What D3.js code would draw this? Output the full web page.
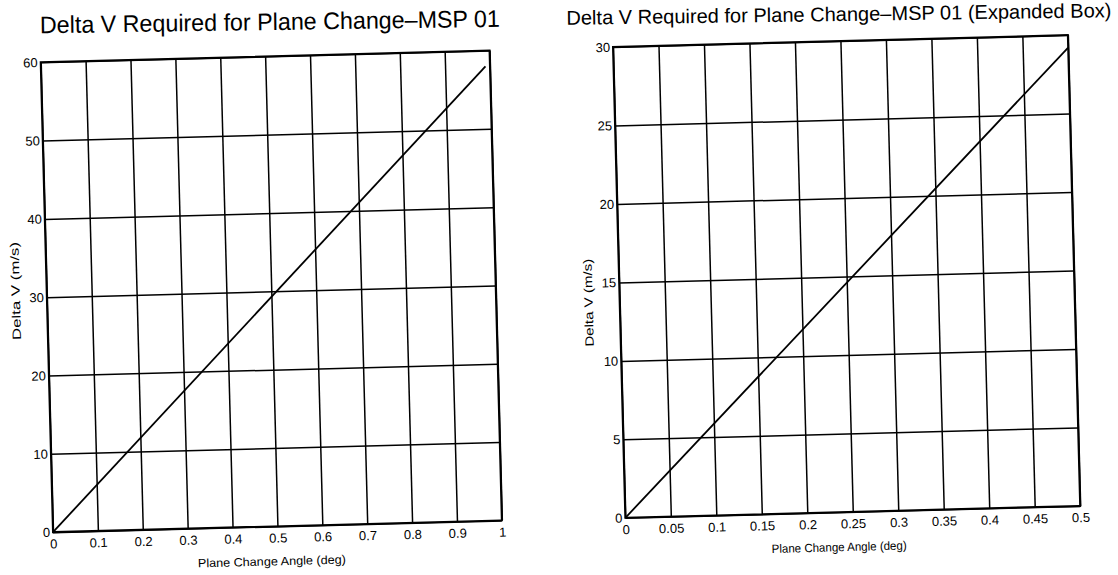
<!DOCTYPE html>
<meta charset="utf-8">
<script src="https://d3js.org/d3.v7.min.js"></script>
<style>
  body { margin: 0; background: #fff; }
  svg { display: block; }
  text { font-family: "Liberation Sans", Arial, sans-serif; fill: #000; }
  .grid line { stroke: #000; stroke-width: 1.5; }
  .grid .domain { display: none; }
  .grid text { font-size: 13px; }
</style>
<div id="chart"></div>
<script>
// ---- data ----
// left panel: full range
var leftAngle = [0, 0.99];
var leftDeltaV = [0, 58.0];
var leftXTicks = [0, 0.1, 0.2, 0.3, 0.4, 0.5, 0.6, 0.7, 0.8, 0.9, 1];
var leftYTicks = [0, 10, 20, 30, 40, 50, 60];

// right panel: expanded box
var rightAngle = [0, 0.5];
var rightDeltaV = [0, 29.2];
var rightXTicks = [0, 0.05, 0.1, 0.15, 0.2, 0.25, 0.3, 0.35, 0.4, 0.45, 0.5];
var rightYTicks = [0, 5, 10, 15, 20, 25, 30];

var titles = [
  "Delta V Required for Plane Change\u2013MSP 01",
  "Delta V Required for Plane Change\u2013MSP 01 (Expanded Box)"
];
var xLabel = "Plane Change Angle (deg)";
var yLabel = "Delta V (m/s)";

// the scan is slightly tilted (titles a little less than the boxes)
var tilt = -1.5;
var titleTilt = -0.8;

var svg = d3.select("#chart").append("svg")
  .attr("width", 1118)
  .attr("height", 575);

svg.append("rect").attr("width", 1118).attr("height", 575).attr("fill", "#fff");

function drawPanel(p) {
  var g = svg.append("g")
    .attr("transform", "translate(" + p.left + "," + p.top + ") rotate(" + tilt + ")");

  var x = d3.scaleLinear().domain([p.xTicks[0], p.xTicks[p.xTicks.length - 1]]).range([0, p.w]);
  var y = d3.scaleLinear().domain([p.yTicks[0], p.yTicks[p.yTicks.length - 1]]).range([p.h, 0]);

  // vertical grid + x tick labels
  g.append("g")
    .attr("class", "grid")
    .attr("transform", "translate(0," + p.h + ")")
    .call(d3.axisBottom(x).tickValues(p.xTicks).tickSize(-p.h).tickPadding(7)
      .tickFormat(function(d) { return String(d); }));

  // horizontal grid + y tick labels
  g.append("g")
    .attr("class", "grid")
    .call(d3.axisLeft(y).tickValues(p.yTicks).tickSize(-p.w).tickPadding(3)
      .tickFormat(function(d) { return String(d); }));

  // frame
  g.append("rect")
    .attr("width", p.w).attr("height", p.h)
    .attr("fill", "none").attr("stroke", "#000").attr("stroke-width", 2);

  // the data line
  var pts = p.xs.map(function(d, i) { return [d, p.ys[i]]; });
  g.append("path")
    .datum(pts)
    .attr("fill", "none")
    .attr("stroke", "#000")
    .attr("stroke-width", 1.8)
    .attr("d", d3.line().x(function(d) { return x(d[0]); }).y(function(d) { return y(d[1]); }));

  // x label
  g.append("text")
    .attr("x", p.xLabX).attr("y", p.h + 39)
    .attr("text-anchor", "middle")
    .attr("textLength", p.xLabLen).attr("lengthAdjust", "spacingAndGlyphs")
    .style("font-size", "12px")
    .text(xLabel);

  // y label
  g.append("text")
    .attr("transform", "translate(" + (-27) + "," + p.yLabY + ") rotate(-90)")
    .attr("text-anchor", "middle")
    .attr("textLength", p.yLabLen).attr("lengthAdjust", "spacingAndGlyphs")
    .style("font-size", "12px")
    .text(yLabel);

  // title (in page coordinates, tilted a bit less)
  svg.append("text")
    .attr("transform", "translate(" + p.titleX + "," + p.titleY + ") rotate(" + titleTilt + ")")
    .attr("text-anchor", "middle")
    .attr("textLength", p.titleLen).attr("lengthAdjust", "spacingAndGlyphs")
    .style("font-size", p.titleSize + "px")
    .text(p.title);
}

drawPanel({
  left: 40.7, top: 62.3, w: 449, h: 470,
  xs: leftAngle, ys: leftDeltaV, xTicks: leftXTicks, yTicks: leftYTicks,
  title: titles[0], titleX: 270, titleY: 30, titleLen: 460, titleSize: 24,
  xLabX: 218, xLabLen: 148, yLabY: 228, yLabLen: 98
});

drawPanel({
  left: 613, top: 47, w: 455, h: 471,
  xs: rightAngle, ys: rightDeltaV, xTicks: rightXTicks, yTicks: rightYTicks,
  title: titles[1], titleX: 839, titleY: 21, titleLen: 545, titleSize: 20,
  xLabX: 213, xLabLen: 135, yLabY: 255, yLabLen: 88
});
</script>
